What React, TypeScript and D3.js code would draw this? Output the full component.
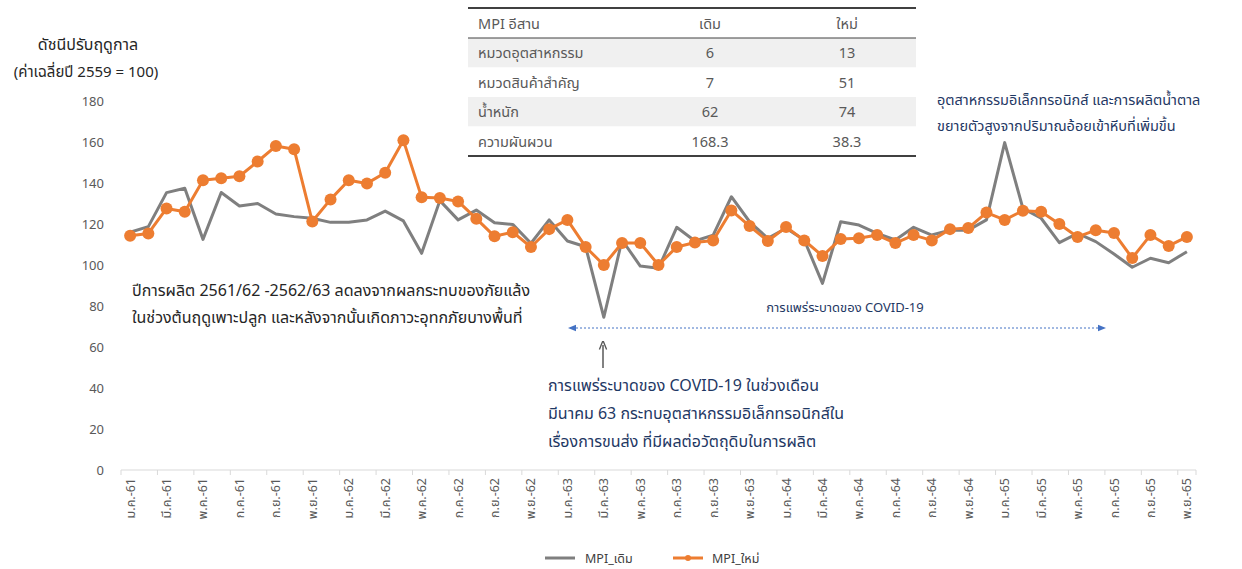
import React from "react";
import * as d3 from "d3";

const monthNames = ["ม.ค.", "ก.พ.", "มี.ค.", "เม.ย.", "พ.ค.", "มิ.ย.", "ก.ค.", "ส.ค.", "ก.ย.", "ต.ค.", "พ.ย.", "ธ.ค."];
const years = ["61", "62", "63", "64", "65"];
const pointCount = 59;
const categories: string[] = [];
years.forEach((y) => monthNames.forEach((m) => categories.push(`${m}-${y}`)));
const cats = categories.slice(0, pointCount);

const mpiOld = [
  116, 118.7, 135.3, 137.4, 112.5, 135.4, 128.8, 130, 124.9, 123.6, 122.8, 120.8,
  120.8, 122, 126.3, 121.5, 105.7, 131.4, 122, 126.8, 120.6, 119.8, 110.6, 122,
  111.7, 108.9, 74.5, 112.2, 99.5, 98.4, 118.4, 111.7, 114.6, 133.3, 121.1, 113,
  117.9, 112.2, 91, 121.1, 119.5, 115.4, 112.2, 118.4, 114.6, 117, 117, 122,
  159.7, 127.6, 122.8, 110.9, 115.4, 111.4, 105.4, 98.9, 103.3, 101.1, 106.5,
];
const mpiNew = [
  114.3, 115.4, 127.6, 126, 141.3, 142.3, 143.3, 150.5, 158, 156.5, 121.2, 132,
  141.3, 139.8, 145, 160.8, 133, 132.7, 131, 122.6, 114, 116, 108.8, 117.5,
  122, 108.8, 100, 110.7, 110.7, 100, 108.8, 111, 112, 126.6, 119, 111.7,
  118.5, 112, 104.4, 112.7, 113, 114.6, 110.7, 114.6, 112, 117.5, 118, 125.6,
  122, 126.5, 126, 120, 113.7, 117, 115.6, 103.4, 114.6, 109.3, 113.7,
];
const yTicks = [0, 20, 40, 60, 80, 100, 120, 140, 160, 180];

const tableHeader = ["MPI อีสาน", "เดิม", "ใหม่"];
const tableRows = [
  ["หมวดอุตสาหกรรม", "6", "13"],
  ["หมวดสินค้าสำคัญ", "7", "51"],
  ["น้ำหนัก", "62", "74"],
  ["ความผันผวน", "168.3", "38.3"],
];

const FONT = "'Noto Sans Thai', 'Noto Sans', 'DejaVu Sans', sans-serif";
const GRAY = "#7f7f7f";
const ORANGE = "#ed7d31";
const NAVY = "#1f3864";
const TXT = "#595959";

export default function App() {
  const W = 1242, H = 569;
  const left = 121, right = 1196, top = 101, bottom = 470;
  const x = d3.scaleBand<string>().domain(cats).range([left, right]).padding(0);
  const bw = x.bandwidth();
  const cx = (c: string) => (x(c) as number) + bw / 2;
  const y = d3.scaleLinear().domain([0, 180]).range([bottom, top]);
  const lineGen = d3.line<number>().x((_, i) => cx(cats[i])).y((v) => y(v));

  const tx0 = 468, tx1 = 916, rowH = 29.5, tTop = 8;
  const colC = [0, 710, 847];

  return (
    <svg width={W} height={H} style={{ position: "absolute", left: 0, top: 0, fontFamily: FONT }}>
      <defs>
        <marker id="arrBlue" viewBox="0 0 10 10" refX="5" refY="5" markerWidth="8" markerHeight="8" orient="auto-start-reverse">
          <path d="M0,1 L10,5 L0,9 z" fill="#4472c4" />
        </marker>
        <marker id="arrGray" viewBox="0 0 10 10" refX="5" refY="5" markerWidth="6" markerHeight="8" orient="auto">
          <path d="M0,1 L10,5 L0,9" fill="none" stroke={TXT} strokeWidth="1.5" />
        </marker>
      </defs>
      <rect width={W} height={H} fill="#fff" />

      {/* y-axis title */}
      <text x={88} y={50} textAnchor="middle" fontSize={16} fill="#262626">ดัชนีปรับฤดูกาล</text>
      <text x={86} y={77} textAnchor="middle" fontSize={15} fill="#262626">(ค่าเฉลี่ยปี 2559 = 100)</text>

      {/* y ticks */}
      {yTicks.map((t) => (
        <text key={t} x={104} y={y(t) + 5} textAnchor="end" fontSize={13} fill={TXT}>{t}</text>
      ))}

      {/* x axis */}
      <line x1={left} x2={right} y1={bottom} y2={bottom} stroke="#d9d9d9" strokeWidth={1} />
      {cats.map((c, i) => i % 2 === 0 ? (
        <line key={"t" + c} x1={x(c)} x2={x(c)} y1={bottom} y2={bottom + 5} stroke="#d9d9d9" />
      ) : null)}
      <line x1={right} x2={right} y1={bottom} y2={bottom + 5} stroke="#d9d9d9" />
      {cats.map((c, i) => i % 2 === 0 ? (
        <text key={"l" + c} transform={`translate(${cx(c) + 4.5},${bottom + 8}) rotate(-90)`} textAnchor="end" fontSize={12.5} fill={TXT}>{c}</text>
      ) : null)}

      {/* table */}
      <line x1={tx0} x2={tx1} y1={tTop} y2={tTop} stroke="#000" strokeWidth={1.5} />
      {tableRows.map((r, i) => (
        <rect key={"bg" + i} x={tx0} y={tTop + 30 + i * rowH} width={tx1 - tx0} height={rowH} fill={i % 2 === 0 ? "#f0f0f0" : "#fff"} />
      ))}
      <line x1={tx0} x2={tx1} y1={tTop + 30} y2={tTop + 30} stroke="#404040" strokeWidth={1} />
      <text x={478} y={tTop + 21} fontSize={14.5} fill={TXT}>{tableHeader[0]}</text>
      <text x={colC[1]} y={tTop + 21} fontSize={14.5} fill={TXT} textAnchor="middle">{tableHeader[1]}</text>
      <text x={colC[2]} y={tTop + 21} fontSize={14.5} fill={TXT} textAnchor="middle">{tableHeader[2]}</text>
      {tableRows.map((r, i) => (
        <g key={"row" + i}>
          <text x={478} y={tTop + 30 + i * rowH + 20} fontSize={14.5} fill={TXT}>{r[0]}</text>
          <text x={colC[1]} y={tTop + 30 + i * rowH + 20} fontSize={14.5} fill={TXT} textAnchor="middle">{r[1]}</text>
          <text x={colC[2]} y={tTop + 30 + i * rowH + 20} fontSize={14.5} fill={TXT} textAnchor="middle">{r[2]}</text>
        </g>
      ))}
      <line x1={tx0} x2={tx1} y1={tTop + 30 + 4 * rowH} y2={tTop + 30 + 4 * rowH} stroke="#000" strokeWidth={1.5} />

      {/* lines */}
      <path d={lineGen(mpiOld) || ""} fill="none" stroke={GRAY} strokeWidth={3} strokeLinejoin="round" />
      <path d={lineGen(mpiNew) || ""} fill="none" stroke={ORANGE} strokeWidth={3} strokeLinejoin="round" />
      {mpiNew.map((v, i) => (
        <circle key={"p" + i} cx={cx(cats[i])} cy={y(v)} r={6} fill={ORANGE} />
      ))}

      {/* annotations */}
      <text x={132} y={296} fontSize={16} fill="#262626">ปีการผลิต 2561/62 -2562/63 ลดลงจากผลกระทบของภัยแล้ง</text>
      <text x={132} y={323} fontSize={16} fill="#262626">ในช่วงต้นฤดูเพาะปลูก และหลังจากนั้นเกิดภาวะอุทกภัยบางพื้นที่</text>

      <text x={937} y={105} fontSize={14.5} fill={NAVY}>อุตสาหกรรมอิเล็กทรอนิกส์ และการผลิตน้ำตาล</text>
      <text x={937} y={131} fontSize={14.5} fill={NAVY}>ขยายตัวสูงจากปริมาณอ้อยเข้าหีบที่เพิ่มขึ้น</text>

      <text x={845} y={312} fontSize={13} fill={NAVY} textAnchor="middle">การแพร่ระบาดของ COVID-19</text>
      <line x1={572} x2={1102} y1={328} y2={328} stroke="#4472c4" strokeWidth={1} strokeDasharray="2,2" markerStart="url(#arrBlue)" markerEnd="url(#arrBlue)" />

      <line x1={603} x2={603} y1={368} y2={345} stroke={TXT} strokeWidth={1.5} markerEnd="url(#arrGray)" />
      <text x={548} y={391} fontSize={16} fill={NAVY}>การแพร่ระบาดของ COVID-19 ในช่วงเดือน</text>
      <text x={548} y={419} fontSize={16} fill={NAVY}>มีนาคม 63 กระทบอุตสาหกรรมอิเล็กทรอนิกส์ใน</text>
      <text x={548} y={447} fontSize={16} fill={NAVY}>เรื่องการขนส่ง ที่มีผลต่อวัตถุดิบในการผลิต</text>

      {/* legend */}
      <line x1={545} x2={575} y1={558} y2={558} stroke={GRAY} strokeWidth={3} />
      <text x={585} y={563} fontSize={12.5} fill="#404040">MPI_เดิม</text>
      <line x1={673} x2={703} y1={558} y2={558} stroke={ORANGE} strokeWidth={3} />
      <circle cx={688} cy={558} r={3} fill={ORANGE} />
      <text x={712} y={563} fontSize={12.5} fill="#404040">MPI_ใหม่</text>
    </svg>
  );
}
